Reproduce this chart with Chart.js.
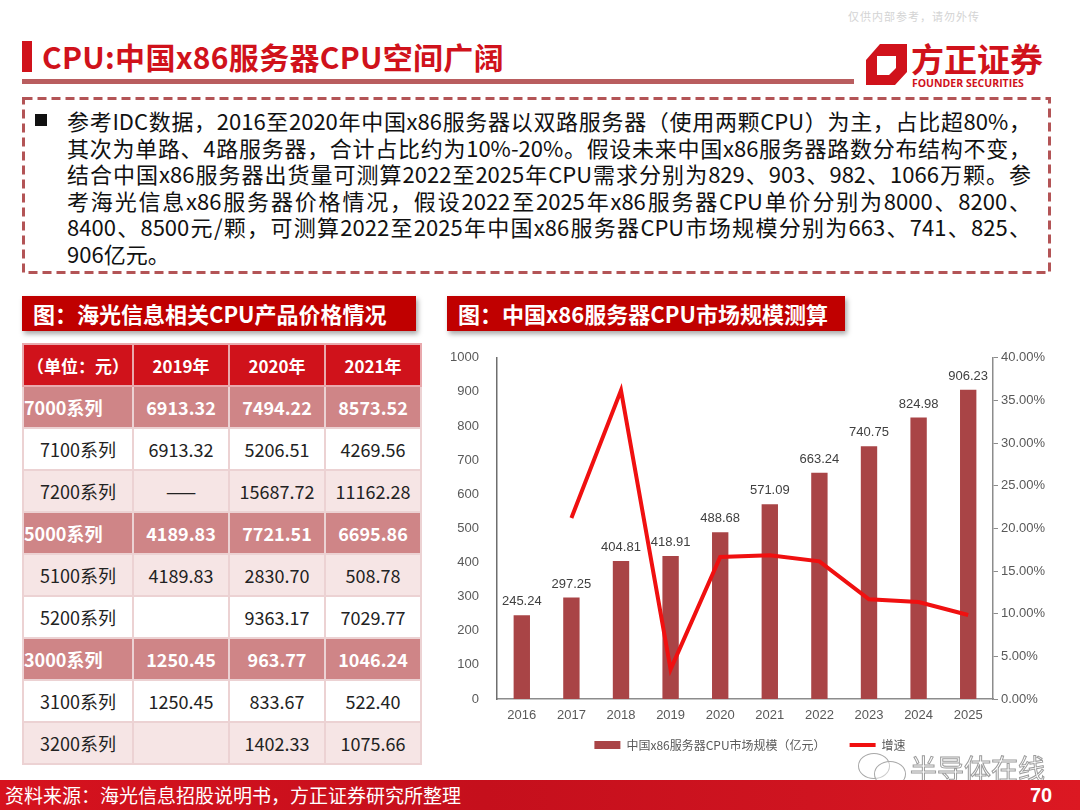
<!DOCTYPE html>
<html>
<head>
<meta charset="utf-8">
<script src="https://cdn.jsdelivr.net/npm/chart.js@4.4.0/dist/chart.umd.min.js"></script>
<style>
html, body { margin: 0; padding: 0; background: #fff; }
body { width: 1080px; height: 810px; position: relative; overflow: hidden; font-family: "Noto Sans CJK SC", "Noto Sans", sans-serif; }
.abs { position: absolute; }
#note { left: 848px; top: 8px; font-size: 11px; color: #d4d4d4; letter-spacing: 1px; white-space: nowrap; }
#titleMark { left: 22px; top: 41px; width: 10px; height: 31px; background: #d0121b; }
#title { left: 42px; top: 35px; font-size: 30px; font-weight: bold; color: #d0121b; line-height: 42px; white-space: nowrap; letter-spacing: 0.3px; }
#titleLine { left: 22px; top: 79px; width: 832px; height: 5px; background: #b95d5f; }
#logoText { left: 911px; top: 38px; font-size: 33px; font-weight: bold; color: #d0121b; line-height: 40px; white-space: nowrap; }
#logoSub { left: 912px; top: 76px; font-size: 10.5px; font-weight: bold; color: #d0121b; white-space: nowrap; font-family: "Open Sans", "Liberation Sans", sans-serif; }
#bullet { left: 35px; top: 114px; width: 12px; height: 12px; background: #111; }
#para { left: 67px; top: 107px; width: 964px; font-size: 22px; line-height: 26.6px; color: #111; }
#para div { text-align: justify; text-align-last: justify; }
#para div.last { text-align-last: left; }
.secHead { top: 296px; height: 35px; background: #c00000; color: #fff; font-size: 22px; font-weight: bold; line-height: 35px; box-shadow: 2px 3px 5px rgba(0,0,0,0.35); white-space: nowrap; }
#head1 { left: 22px; width: 394px; padding-left: 11px; box-sizing: border-box; }
#head2 { left: 447px; width: 398px; padding-left: 11px; box-sizing: border-box; }
#priceTable { left: 22px; top: 343px; border-collapse: collapse; table-layout: fixed; }
#priceTable td { height: 42px; padding: 0; border: 2px solid #ecd2d3; font-size: 18px; text-align: center; color: #222; white-space: nowrap; box-sizing: border-box; }
#priceTable tr.head td { background: #d0121b; color: #fff; font-weight: bold; font-size: 17px; border-color: #e9a9ad; }
#priceTable tr.series td { background: #cf8587; color: #fff; font-weight: bold; }
#priceTable tr.series td:first-child { text-align: left; }
#priceTable tr.pink td { background: #f6e5e5; }
#priceTable tr.white td { background: #fff; }
#chartBox { left: 440px; top: 340px; width: 620px; height: 421px; }
#footer { left: 0; top: 780px; width: 1080px; height: 30px; background: linear-gradient(to right, #d6121e 0%, #c50f1c 45%, #cf1420 75%, #dc1822 100%); }
#source { left: 5px; top: 781px; font-size: 19px; color: #fff; line-height: 28px; white-space: nowrap; }
#pageNo { left: 1030px; top: 781px; font-size: 20px; font-weight: bold; color: #fff; line-height: 28px; font-family: "Liberation Sans", Arial, sans-serif; }
#wm { left: 910px; top: 748px; font-size: 27px; color: rgba(255,255,255,0.5); -webkit-text-stroke: 1px #9c9c9c; white-space: nowrap; }
.bubble { border: 1.5px solid #a8a8a8; border-radius: 50%; background: rgba(255,255,255,0.4); }
</style>
</head>
<body>
<div id="note" class="abs">仅供内部参考，请勿外传</div>
<div id="titleMark" class="abs"></div>
<div id="title" class="abs">CPU:中国x86服务器CPU空间广阔</div>
<div id="titleLine" class="abs"></div>
<svg class="abs" style="left:0;top:0" width="1080" height="300">
  <path d="M880 44 L907 44 L907 72 L895 85 L866 85 L866 60 Z M877 56 L896 56 L896 68 L889 75 L877 75 Z" fill="#d0121b" fill-rule="evenodd"/>
  <rect x="23.5" y="98.5" width="1026" height="174" fill="none" stroke="#b35456" stroke-width="3" stroke-dasharray="9 5"/>
</svg>
<div id="logoText" class="abs">方正证券</div>
<div id="logoSub" class="abs">FOUNDER SECURITIES</div>
<div id="bullet" class="abs"></div>
<div id="para" class="abs"></div>
<div id="head1" class="abs secHead">图：海光信息相关CPU产品价格情况</div>
<div id="head2" class="abs secHead">图：中国x86服务器CPU市场规模测算</div>
<table id="priceTable" class="abs"></table>
<div id="chartBox" class="abs"><canvas id="myChart"></canvas></div>
<div class="abs bubble" style="left:858px;top:753px;width:30px;height:24px;"></div>
<div class="abs bubble" style="left:874px;top:761px;width:30px;height:24px;"></div>
<div id="wm" class="abs">半导体在线</div>
<div id="footer" class="abs"></div>
<div id="source" class="abs">资料来源：海光信息招股说明书，方正证券研究所整理</div>
<div id="pageNo" class="abs">70</div>

<script>
// paragraph text, one entry per printed line
var paraLines = [
    '参考IDC数据，2016至2020年中国x86服务器以双路服务器（使用两颗CPU）为主，占比超80%，',
    '其次为单路、4路服务器，合计占比约为10%-20%。假设未来中国x86服务器路数分布结构不变，',
    '结合中国x86服务器出货量可测算2022至2025年CPU需求分别为829、903、982、1066万颗。参',
    '考海光信息x86服务器价格情况，假设2022至2025年x86服务器CPU单价分别为8000、8200、',
    '8400、8500元/颗，可测算2022至2025年中国x86服务器CPU市场规模分别为663、741、825、',
    '906亿元。'
];

// table data
var tableHead = ['（单位：元）', '2019年', '2020年', '2021年'];
var seriesNames = ['7000系列', '7100系列', '7200系列', '5000系列', '5100系列', '5200系列', '3000系列', '3100系列', '3200系列'];
var price2019 = ['6913.32', '6913.32', '——', '4189.83', '4189.83', '', '1250.45', '1250.45', ''];
var price2020 = ['7494.22', '5206.51', '15687.72', '7721.51', '2830.70', '9363.17', '963.77', '833.67', '1402.33'];
var price2021 = ['8573.52', '4269.56', '11162.28', '6695.86', '508.78', '7029.77', '1046.24', '522.40', '1075.66'];
var rowKinds = ['series', 'white', 'pink', 'series', 'pink', 'white', 'series', 'white', 'pink'];

// chart data
var years = ['2016', '2017', '2018', '2019', '2020', '2021', '2022', '2023', '2024', '2025'];
var marketSize = [245.24, 297.25, 404.81, 418.91, 488.68, 571.09, 663.24, 740.75, 824.98, 906.23];
var growthRate = [null, 21.21, 36.19, 3.48, 16.65, 16.86, 16.14, 11.69, 11.37, 9.85];
var sizeLabel = '中国x86服务器CPU市场规模（亿元）';
var growthLabel = '增速';

var para = document.getElementById('para');
for (var i = 0; i < paraLines.length; i++) {
    var d = document.createElement('div');
    d.textContent = paraLines[i];
    if (i == paraLines.length - 1) d.className = 'last';
    para.appendChild(d);
}

var colWidths = [110, 96, 96, 96];
var table = document.getElementById('priceTable');
var html = '<colgroup>';
for (var c = 0; c < colWidths.length; c++) {
    html += '<col style="width:' + colWidths[c] + 'px">';
}
html += '</colgroup><tr class="head">';
for (var c = 0; c < tableHead.length; c++) {
    html += '<td>' + tableHead[c] + '</td>';
}
html += '</tr>';
for (var r = 0; r < seriesNames.length; r++) {
    html += '<tr class="' + rowKinds[r] + '"><td>' + seriesNames[r] + '</td><td>' + price2019[r] +
        '</td><td>' + price2020[r] + '</td><td>' + price2021[r] + '</td></tr>';
}
table.innerHTML = html;

// value labels on top of the bars
var barLabels = {
    id: 'barLabels',
    afterDatasetsDraw: function (chart) {
        var ctx = chart.ctx;
        var meta = chart.getDatasetMeta(0);
        ctx.save();
        ctx.font = '13px "Liberation Sans", Arial, sans-serif';
        ctx.fillStyle = '#404040';
        ctx.textAlign = 'center';
        ctx.textBaseline = 'bottom';
        meta.data.forEach(function (bar, i) {
            ctx.fillText(marketSize[i].toFixed(2), bar.x, bar.y - 7);
        });
        ctx.restore();
    }
};

var tickFont = { family: '"Liberation Sans", Arial, sans-serif', size: 13 };

var ctx = document.getElementById('myChart');
window.myChart = new Chart(ctx, {
    type: 'bar',
    data: {
        labels: years,
        datasets: [{
            label: sizeLabel,
            data: marketSize,
            backgroundColor: '#a94446',
            borderWidth: 0,
            barPercentage: 0.33,
            categoryPercentage: 1,
            pointStyle: 'rect',
            yAxisID: 'y',
            order: 2
        }, {
            type: 'line',
            label: growthLabel,
            data: growthRate,
            borderColor: '#f01010',
            backgroundColor: '#f01010',
            borderWidth: 4,
            pointRadius: 0,
            pointStyle: 'line',
            tension: 0,
            yAxisID: 'y1',
            order: 1
        }]
    },
    options: {
        responsive: true,
        maintainAspectRatio: false,
        animation: false,
        layout: { padding: { top: 14, left: 0, right: 0, bottom: 0 } },
        plugins: {
            tooltip: { enabled: false },
            legend: {
                position: 'bottom',
                labels: {
                    usePointStyle: true,
                    pointStyleWidth: 26,
                    boxHeight: 8,
                    padding: 12,
                    color: '#595959',
                    font: { family: '"Noto Sans CJK SC", sans-serif', size: 12 },
                    sort: function (a, b) { return a.datasetIndex - b.datasetIndex; },
                    generateLabels: function (chart) {
                        var items = Chart.defaults.plugins.legend.labels.generateLabels(chart);
                        items.forEach(function (item) {
                            if (item.datasetIndex == 0) item.text = item.text + '\u3000\u2002';
                        });
                        return items;
                    }
                }
            }
        },
        scales: {
            x: {
                grid: { display: false },
                border: { display: true, color: '#8c8c8c', width: 1.5 },
                ticks: { color: '#595959', font: tickFont, padding: 1 },
                afterFit: function (scale) { scale.height = 28; }
            },
            y: {
                position: 'left',
                min: 0,
                max: 1000,
                grid: { display: false },
                border: { display: true, color: '#6e6e6e', width: 1.5 },
                ticks: {
                    stepSize: 100,
                    color: '#595959',
                    font: tickFont,
                    padding: 10,
                    callback: function (v) { return String(v); }
                },
                afterFit: function (scale) { scale.width = 57; }
            },
            y1: {
                position: 'right',
                min: 0,
                max: 40,
                grid: { display: true, drawOnChartArea: false, drawTicks: true, tickLength: 5, color: '#8c8c8c' },
                border: { display: true, color: '#8c8c8c', width: 1.5 },
                ticks: {
                    stepSize: 5,
                    color: '#595959',
                    font: tickFont,
                    padding: 3,
                    callback: function (v) { return v.toFixed(2) + '%'; }
                },
                afterFit: function (scale) { scale.width = 67; }
            }
        }
    },
    plugins: [barLabels]
});
</script>
</body>
</html>
